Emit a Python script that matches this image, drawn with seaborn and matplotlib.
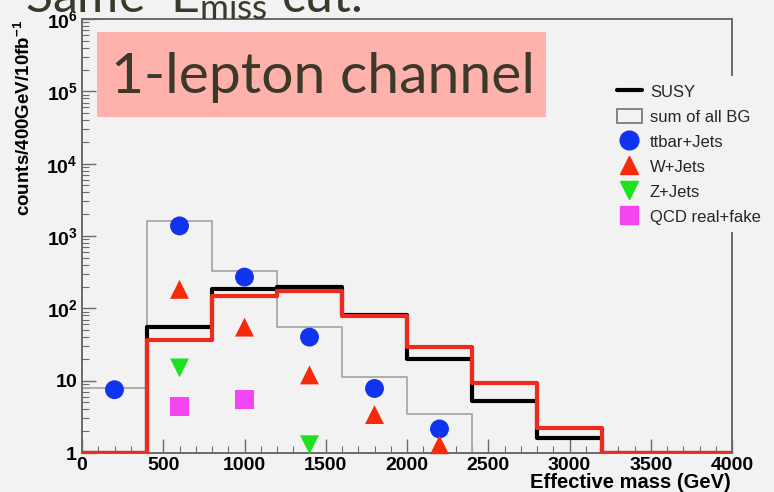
import numpy as np
import matplotlib
matplotlib.use("Agg")
import matplotlib.pyplot as plt
from matplotlib.lines import Line2D
from matplotlib.patches import Patch, Rectangle
from matplotlib.ticker import FixedLocator, FixedFormatter, LogLocator, NullFormatter, MultipleLocator
import seaborn as sns

# --- histogram binning (GeV) -------------------------------------------------
bin_edges = [0, 400, 800, 1200, 1600, 2000, 2400, 2800, 3200, 3600, 4000]
bin_centers = [200, 600, 1000, 1400, 1800, 2200, 2600, 3000, 3400, 3800]

# --- step histograms (counts / 400 GeV / 10 fb^-1) ---------------------------
susy = [0, 56, 183, 195, 80, 20, 5.3, 1.6, 0, 0]
susy_alt = [0, 36, 147, 172, 78, 29, 9.4, 2.2, 0, 0]
sum_bg = [8, 1620, 325, 55, 11.4, 3.5, 0, 0, 0, 0]

# --- individual backgrounds ----------------------------------------------------
ttbar_x = [200, 600, 1000, 1400, 1800, 2200]
ttbar_y = [7.5, 1380, 270, 40, 7.8, 2.15]
wjets_x = [600, 1000, 1400, 1800, 2200]
wjets_y = [183, 55, 12, 3.4, 1.3]
zjets_x = [600, 1400]
zjets_y = [15, 1.3]
qcd_x = [600, 1000]
qcd_y = [4.4, 5.5]

# --- axis ticks ------------------------------------------------------------------
x_ticks = [0, 500, 1000, 1500, 2000, 2500, 3000, 3500, 4000]
x_ticklabels = ["0", "500", "1000", "1500", "2000", "2500", "3000", "3500", "4000"]
y_ticks = [1, 10, 100, 1e3, 1e4, 1e5, 1e6]
y_ticklabels = [r"$\mathbf{1}$", r"$\mathbf{10}$", r"$\mathbf{10^{2}}$", r"$\mathbf{10^{3}}$",
                r"$\mathbf{10^{4}}$", r"$\mathbf{10^{5}}$", r"$\mathbf{10^{6}}$"]

Y_MIN, Y_MAX = 1, 1e6
BG = "#f2f2f2"

sns.set_theme(style="ticks")
plt.rcParams["font.family"] = ["Liberation Sans", "DejaVu Sans"]
plt.rcParams["mathtext.fontset"] = "custom"
plt.rcParams["mathtext.rm"] = "Lato"
plt.rcParams["mathtext.bf"] = "Liberation Sans:bold"
plt.rcParams["mathtext.it"] = "Lato:italic"

fig = plt.figure(figsize=(7.74, 4.92), dpi=100, facecolor=BG)
ax = fig.add_axes([82 / 774, 1 - 453 / 492, 650 / 774, 434 / 492])
ax.set_facecolor(BG)
ax.set_yscale("log")

# summed background outline
sns.histplot(x=bin_centers, weights=sum_bg, bins=bin_edges, element="step", fill=False,
             color="#a8a8a8", linewidth=1.3, ax=ax, zorder=2)
# signal histograms; empty bins sit on the axis floor
sns.histplot(x=bin_centers, weights=np.maximum(susy, Y_MIN), bins=bin_edges, element="step",
             fill=False, color="black", linewidth=3.0, ax=ax, zorder=3)
sns.histplot(x=bin_centers, weights=np.maximum(susy_alt, Y_MIN), bins=bin_edges, element="step",
             fill=False, color="#ee2a1c", linewidth=3.0, ax=ax, zorder=3.1)

marker_area = 185
sns.scatterplot(x=ttbar_x, y=ttbar_y, marker="o", s=marker_area, color="#1033ee",
                edgecolor="none", ax=ax, zorder=5, clip_on=False)
sns.scatterplot(x=wjets_x, y=wjets_y, marker="^", s=marker_area, color="#f52a0a",
                edgecolor="none", ax=ax, zorder=5, clip_on=False)
sns.scatterplot(x=zjets_x, y=zjets_y, marker="v", s=marker_area, color="#1ee21e",
                edgecolor="none", ax=ax, zorder=5, clip_on=False)
sns.scatterplot(x=qcd_x, y=qcd_y, marker="s", s=marker_area, color="#f545f0",
                edgecolor="none", ax=ax, zorder=5, clip_on=False)

ax.set_xlim(bin_edges[0], bin_edges[-1])
ax.set_ylim(Y_MIN, Y_MAX)
ax.set_xlabel("")
ax.set_ylabel("")

# ticks drawn inside the frame
ax.xaxis.set_major_locator(FixedLocator(x_ticks))
ax.xaxis.set_major_formatter(FixedFormatter(x_ticklabels))
ax.xaxis.set_minor_locator(MultipleLocator(100))
ax.yaxis.set_major_locator(FixedLocator(y_ticks))
ax.yaxis.set_major_formatter(FixedFormatter(y_ticklabels))
ax.yaxis.set_minor_locator(LogLocator(base=10, subs=np.arange(2, 10)))
ax.yaxis.set_minor_formatter(NullFormatter())
ax.tick_params(axis="both", which="both", direction="in", color="#6a6a6a",
               top=False, right=False)
ax.tick_params(axis="both", which="major", length=10, width=1.0, labelsize=14, labelcolor="black")
ax.tick_params(axis="both", which="minor", length=5, width=0.8)
ax.tick_params(axis="x", which="major", pad=3)
ax.tick_params(axis="y", which="major", pad=3)
for lab in ax.get_xticklabels():
    lab.set_fontweight("bold")
for sp in ax.spines.values():
    sp.set_color("#6a6a6a")
    sp.set_linewidth(1.4)
    sp.set_visible(True)

# axis titles
fig.text(24 / 774, 1 - 20 / 492, r"counts/400GeV/10fb$^{\mathbf{-1}}$", rotation=90,
         ha="center", va="top", fontsize=13.5, fontweight="bold", color="black")
fig.text(731 / 774, 1 - 483 / 492, "Effective mass (GeV)", ha="right", va="center",
         fontsize=14.5, fontweight="bold", color="black")

# legend
handles = [
    Line2D([], [], color="black", linewidth=3.0),
    Patch(facecolor="none", edgecolor="#7a7a7a", linewidth=1.3),
    Line2D([], [], linestyle="none", marker="o", markersize=13.5, color="#1033ee"),
    Line2D([], [], linestyle="none", marker="^", markersize=13.5, color="#f52a0a"),
    Line2D([], [], linestyle="none", marker="v", markersize=13.5, color="#1ee21e"),
    Line2D([], [], linestyle="none", marker="s", markersize=12.5, color="#f545f0"),
]
labels = ["SUSY", "sum of all BG", "ttbar+Jets", "W+Jets", "Z+Jets", "QCD real+fake"]
leg = ax.legend(handles, labels, loc="upper left", bbox_to_anchor=(609 / 774, 1 - 76 / 492),
                bbox_transform=fig.transFigure, frameon=True, facecolor=BG, edgecolor="none",
                framealpha=1, fancybox=False, fontsize=12, handlelength=1.5, handleheight=1.0,
                handletextpad=0.5, labelspacing=0.53, borderpad=0.45, borderaxespad=0)
leg.set_zorder(10)

# channel label
fig.patches.append(Rectangle((97 / 774, 1 - 117 / 492), 449 / 774, 85 / 492,
                             transform=fig.transFigure, facecolor="#ffb1ab",
                             edgecolor="none", zorder=20))
fig.text(111 / 774, 1 - 93 / 492, "1-lepton channel", family="Lato", fontsize=41,
         color="#3b3a2a", ha="left", va="baseline", zorder=21)

# heading running off the top edge
fig.text(25 / 774, 1 - 12 / 492, r"Same  $\mathrm{E}_{\mathrm{miss}}$ cut.", family="Lato",
         fontsize=36, color="#3b3a2a", ha="left", va="baseline")

fig.savefig("out.png", dpi=100, facecolor=BG)
